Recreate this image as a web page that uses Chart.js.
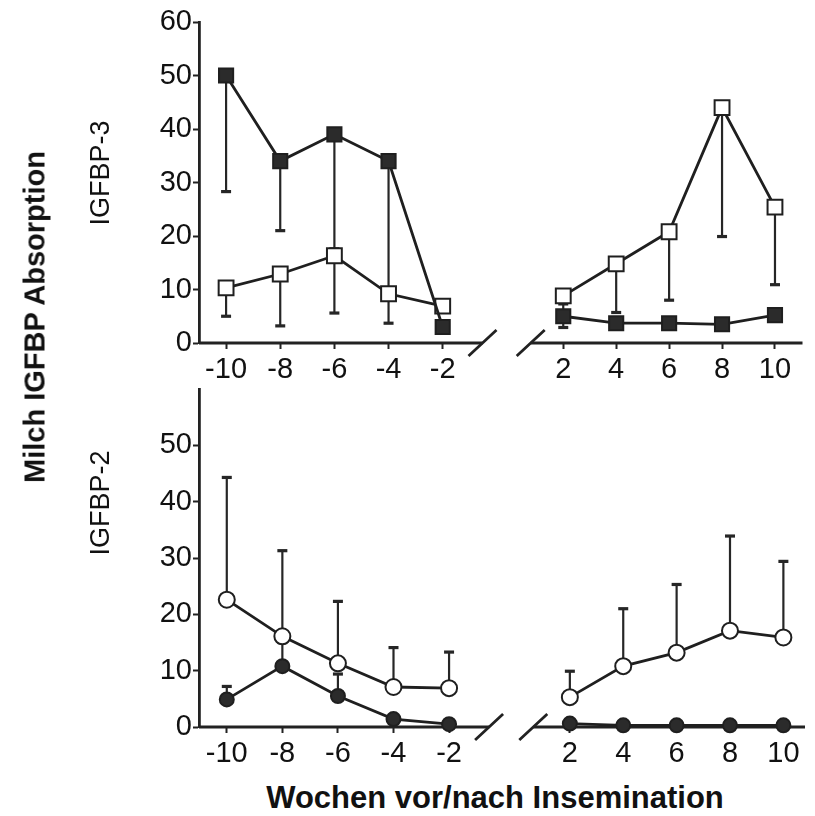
<!DOCTYPE html>
<html><head><meta charset="utf-8">
<script src="https://cdn.jsdelivr.net/npm/chart.js@4"></script>
<style>
html,body{margin:0;padding:0;background:#fff;}
body{width:815px;height:816px;position:relative;overflow:hidden;font-family:'Liberation Sans',Arial,sans-serif;color:#111;}
canvas{position:absolute;left:0;}
#cTop{top:0;}
#cBot{top:370px;}
.lbl{position:absolute;white-space:nowrap;line-height:1;transform:translate(-50%,-50%) rotate(-90deg);}
.hl{position:absolute;white-space:nowrap;line-height:1;transform:translate(-50%,-50%);}
</style></head><body>
<canvas id="cTop" width="815" height="390"></canvas>
<canvas id="cBot" width="815" height="400"></canvas>
<div class="lbl" style="left:35px;top:317px;font-weight:bold;font-size:29px;">Milch IGFBP Absorption</div>
<div class="lbl" style="left:100px;top:173px;font-size:27px;">IGFBP-3</div>
<div class="lbl" style="left:100px;top:503px;font-size:27px;">IGFBP-2</div>
<div class="hl" style="left:495px;top:797px;font-weight:bold;font-size:31px;">Wochen vor/nach Insemination</div>
<script>
// ---- categories / ticks ----
const weeksPre = [-10, -8, -6, -4, -2];
const weeksPost = [2, 4, 6, 8, 10];
const tickPre = [-10, -8, -6, -4, -2];
const tickPost = [2, 4, 6, 8, 10];
const yTicksTop = [0, 10, 20, 30, 40, 50, 60];
const yTicksBot = [0, 10, 20, 30, 40, 50];

// ---- IGFBP-3 (top) ----
const bp3FilledPre = [50, 34, 39, 34, 3];
const bp3FilledPreLo = [28.3, 21, 17.6, 10, null];
const bp3FilledPost = [5, 3.7, 3.7, 3.5, 5.2];
const bp3FilledPostHi = [7.3, null, null, null, null];
const bp3FilledPostLo = [2.9, null, null, null, null];
const bp3OpenPre = [10.3, 12.9, 16.3, 9.2, 6.9];
const bp3OpenPreLo = [5, 3.2, 5.6, 3.7, null];
const bp3OpenPost = [8.8, 14.8, 20.8, 44, 25.4];
const bp3OpenPostLo = [null, 5.7, 8, 19.9, 10.9];

// ---- IGFBP-2 (bottom) ----
const bp2OpenPre = [22.6, 16.1, 11.3, 7.1, 6.9];
const bp2OpenPreHi = [44.3, 31.3, 22.3, 14.1, 13.3];
const bp2OpenPost = [5.3, 10.8, 13.2, 17.1, 15.9];
const bp2OpenPostHi = [9.9, 21, 25.3, 33.9, 29.4];
const bp2FilledPre = [4.9, 10.8, 5.5, 1.4, 0.5];
const bp2FilledPreHi = [7.2, 15, 9.4, null, null];
const bp2FilledPost = [0.6, 0.3, 0.3, 0.3, 0.3];

const INK = '#1f1f1f';
const TICK_SIZE = 29;
Chart.defaults.font.family = "'Liberation Sans', Arial, sans-serif";
Chart.defaults.color = '#111';

function series(weeks, vals, side, style, filled, radius, hi, lo) {
  return {
    data: weeks.map((w, i) => ({x: w, y: vals[i]})),
    xAxisID: side, yAxisID: 'y',
    showLine: true, borderColor: INK, borderWidth: 2.8,
    pointStyle: style, pointRadius: radius, pointHoverRadius: radius,
    pointBackgroundColor: filled ? '#2b2b2b' : '#ffffff',
    pointBorderColor: INK, pointBorderWidth: 2,
    errHi: hi || null, errLo: lo || null, clip: false
  };
}

const errorBars = {
  id: 'errorBars',
  beforeDatasetsDraw(chart) {
    const ctx = chart.ctx, ys = chart.scales.y;
    chart.data.datasets.forEach((ds, di) => {
      const meta = chart.getDatasetMeta(di);
      ['errHi', 'errLo'].forEach(k => {
        const arr = ds[k]; if (!arr) return;
        arr.forEach((v, i) => {
          if (v == null) return;
          const pt = meta.data[i]; const py = ys.getPixelForValue(v);
          ctx.save(); ctx.strokeStyle = '#262626';
          ctx.lineWidth = 2.2; ctx.beginPath(); ctx.moveTo(pt.x, pt.y); ctx.lineTo(pt.x, py); ctx.stroke();
          ctx.lineWidth = 3.2; ctx.beginPath(); ctx.moveTo(pt.x - 5, py); ctx.lineTo(pt.x + 5, py); ctx.stroke();
          ctx.restore();
        });
      });
    });
  }
};

const axisBreak = {
  id: 'axisBreak',
  beforeDatasetsDraw(chart, args, opts) {
    const {ctx, chartArea} = chart; const xl = chart.scales.xL, xr = chart.scales.xR;
    const yb = chartArea.bottom;
    const a = xl.getPixelForValue(opts.leftEnd), b = xr.getPixelForValue(opts.rightStart);
    ctx.save(); ctx.strokeStyle = '#222'; ctx.lineWidth = 2.8;
    ctx.beginPath(); ctx.moveTo(chartArea.left, yb); ctx.lineTo(a, yb);
    ctx.moveTo(b, yb); ctx.lineTo(chartArea.right, yb); ctx.stroke();
    ctx.lineWidth = 2.8; ctx.beginPath();
    [a, b].forEach(p => { ctx.moveTo(p - 14, yb + 13); ctx.lineTo(p + 14, yb - 13); });
    ctx.stroke(); ctx.restore();
  }
};

function xScale(ticksArr, min, max, weight, h) {
  return {
    type: 'linear', position: 'bottom', stack: 'x', stackWeight: weight, min: min, max: max,
    afterBuildTicks: s => { s.ticks = ticksArr.map(v => ({value: v})); },
    afterFit: s => { s.height = h; },
    border: {display: false},
    grid: {drawOnChartArea: false, drawTicks: true, tickLength: 6, tickWidth: 2, tickColor: '#222'},
    ticks: {font: {size: TICK_SIZE}, color: '#111', padding: 4, maxRotation: 0, autoSkip: false}
  };
}
function yScale(ticksArr) {
  return {
    type: 'linear', position: 'left', min: 0, max: 60,
    afterBuildTicks: s => { s.ticks = ticksArr.map(v => ({value: v})); },
    afterFit: s => { s.width = 199; },
    border: {display: true, color: '#222', width: 2.8},
    grid: {drawOnChartArea: false, drawTicks: true, tickLength: 6, tickWidth: 2, tickColor: '#222'},
    ticks: {font: {size: TICK_SIZE}, color: '#111', padding: 1}
  };
}

new Chart(document.getElementById('cTop'), {
  type: 'scatter',
  data: {datasets: [
    series(weeksPre, bp3FilledPre, 'xL', 'rect', true, 10, null, bp3FilledPreLo),
    series(weeksPost, bp3FilledPost, 'xR', 'rect', true, 10, bp3FilledPostHi, bp3FilledPostLo),
    series(weeksPre, bp3OpenPre, 'xL', 'rect', false, 10.5, null, bp3OpenPreLo),
    series(weeksPost, bp3OpenPost, 'xR', 'rect', false, 10.5, null, bp3OpenPostLo)
  ]},
  options: {
    responsive: false, animation: false,
    layout: {padding: {left: 0, right: 3, top: 22, bottom: 0}},
    plugins: {legend: {display: false}, tooltip: {enabled: false},
      axisBreak: {leftEnd: -0.53, rightStart: 0.77}},
    scales: {
      xL: xScale(tickPre, -11, 0.38, 313, 47),
      xR: xScale(tickPost, -0.12, 11.04, 300, 47),
      y: yScale(yTicksTop)
    }
  },
  plugins: [axisBreak, errorBars]
});

new Chart(document.getElementById('cBot'), {
  type: 'scatter',
  data: {datasets: [
    series(weeksPre, bp2FilledPre, 'xL', 'circle', true, 7, bp2FilledPreHi, null),
    series(weeksPost, bp2FilledPost, 'xR', 'circle', true, 7, null, null),
    series(weeksPre, bp2OpenPre, 'xL', 'circle', false, 8, bp2OpenPreHi, null),
    series(weeksPost, bp2OpenPost, 'xR', 'circle', false, 8, bp2OpenPostHi, null)
  ]},
  options: {
    responsive: false, animation: false,
    layout: {padding: {left: 0, right: 0, top: 19, bottom: 0}},
    plugins: {legend: {display: false}, tooltip: {enabled: false},
      axisBreak: {leftEnd: -0.56, rightStart: 0.63}},
    scales: {
      xL: xScale(tickPre, -11, 0.33, 320, 43),
      xR: xScale(tickPost, -0.10, 10.81, 296, 43),
      y: yScale(yTicksBot)
    }
  },
  plugins: [axisBreak, errorBars]
});
</script>
</body></html>
